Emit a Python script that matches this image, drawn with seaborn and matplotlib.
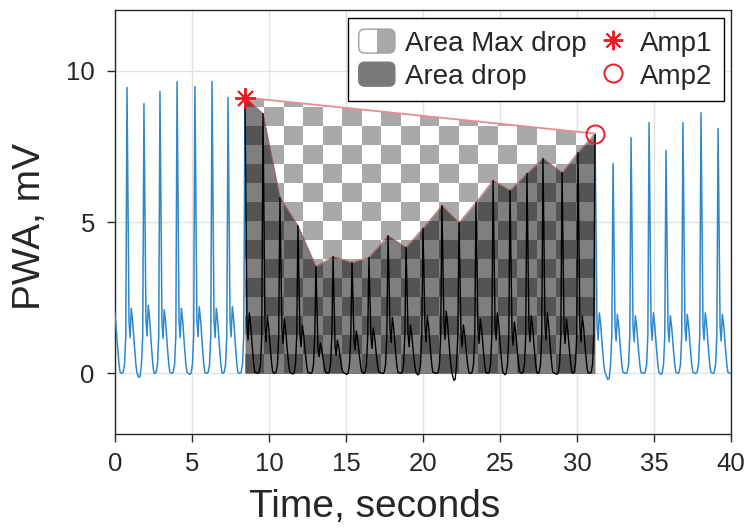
import numpy as np
import matplotlib
matplotlib.use("Agg")
import matplotlib.pyplot as plt
import seaborn as sns
from matplotlib.patches import Polygon, FancyBboxPatch, Rectangle, Patch
from matplotlib.lines import Line2D
from matplotlib.legend_handler import HandlerBase
from matplotlib.colors import ListedColormap

# ---------------- data ----------------
peak_t = [-0.31, 0.78, 1.88, 2.92, 4.03, 5.19, 6.30, 7.34, 8.44,
          9.61, 10.71, 11.88, 13.05, 14.16, 15.39, 16.49, 17.73, 18.90, 20.00,
          21.23, 22.34, 23.44, 24.55, 25.65, 26.75, 27.79, 29.03, 30.06, 31.17,
          32.34, 33.51, 34.68, 35.78, 36.88, 38.05, 39.16, 40.30]
peak_v = [9.20, 9.44, 8.91, 9.31, 9.64, 9.47, 9.64, 9.11, 9.11,
          8.58, 5.81, 4.88, 3.53, 3.86, 3.66, 3.83, 4.55, 4.16, 4.79,
          5.54, 4.98, 5.64, 6.37, 6.04, 6.60, 7.10, 6.63, 7.29, 7.92,
          6.93, 7.79, 8.28, 7.36, 8.28, 8.61, 8.09, 8.00]
bump_v = [2.05, 2.15, 2.25, 2.10, 2.15, 2.20, 2.15, 2.20, 2.00,
          1.90, 1.80, 1.60, 1.00, 1.10, 1.40, 1.50, 1.85, 1.60, 1.90,
          2.05, 1.60, 1.80, 2.00, 1.70, 1.90, 2.00, 1.80, 1.90, 2.00,
          1.95, 1.90, 2.00, 1.90, 1.95, 2.00, 1.95, 2.00]
trough_v = [0.0, 0.0, -0.13, 0.0, 0.0, -0.03, 0.0, 0.0, 0.0,
            0.0, 0.0, -0.02, 0.0, 0.0, -0.03, 0.0, 0.0, 0.0, -0.05,
            0.0, -0.23, 0.0, 0.0, -0.04, 0.0, 0.0, -0.03, 0.0, 0.0,
            -0.20, 0.0, 0.0, -0.03, 0.0, 0.0, 0.0, 0.0]
amp1_idx = 8
amp2_idx = 28

# beat shape: offsets (s) from each systolic peak
shape_dt = [-0.34, -0.25, -0.16, -0.08, 0.0, 0.13, 0.20, 0.28, 0.37, 0.47, 0.57, 0.64]

x_ticks = [0, 5, 10, 15, 20, 25, 30, 35, 40]
y_ticks = [0, 5, 10]

# ---------------- build the waveform from the per-beat values ----------------
t_sig, v_sig = [], []
for tp, A, b, m in zip(peak_t, peak_v, bump_v, trough_v):
    vals = [m, m + 0.04, 0.30, 1.25, A, 0.8 * b, 0.55 * b, b, 0.8 * b, 0.45 * b, 0.15 * b, 0.04]
    for dt, vv in zip(shape_dt, vals):
        t_sig.append(tp + dt)
        v_sig.append(vv)
t_sig = np.array(t_sig)
v_sig = np.array(v_sig)

t1, A1 = peak_t[amp1_idx], peak_v[amp1_idx]
t2, A2 = peak_t[amp2_idx], peak_v[amp2_idx]
pre = t_sig <= t1
mid = (t_sig >= t1) & (t_sig <= t2)
post = t_sig >= t2
env_t = np.array(peak_t[amp1_idx:amp2_idx + 1])
env_v = np.array(peak_v[amp1_idx:amp2_idx + 1])

# ---------------- style ----------------
sns.set_theme(style="ticks")
plt.rcParams["font.family"] = ["Liberation Sans", "DejaVu Sans"]
dark = "#262626"
blue = "#2f88cc"
red = "#ec1c24"

fig = plt.figure(figsize=(7.45, 5.29), dpi=100)
ax = fig.add_axes([115 / 745, 1 - 434 / 529, 616 / 745, 424 / 529])

# checkerboard for the "Area Max drop" trapezoid
cdx, cdy = 1.26, 0.627
nx = int(np.ceil((t2 - t1) / cdx)) + 1
ny = int(np.ceil(max(A1, A2) / cdy)) + 1
ii, jj = np.indices((ny, nx))
board = (ii + jj) % 2
im = ax.imshow(board, cmap=ListedColormap(["#a9a9a9", "#ffffff"]),
               extent=[t1, t1 + nx * cdx, 0, ny * cdy], origin="lower",
               interpolation="nearest", aspect="auto", zorder=1)
trap = Polygon([[t1, 0], [t1, A1], [t2, A2], [t2, 0]], closed=True,
               fc="none", ec="none", transform=ax.transData)
ax.add_patch(trap)
im.set_clip_path(trap)

# "Area drop" fill under the envelope
ax.fill_between(env_t, env_v, 0, color="black", alpha=0.5, lw=0, zorder=2)
ax.plot(env_t, env_v, color="#a85a5a", lw=0.8, alpha=0.8, zorder=2.5)

# signals
sns.lineplot(x=t_sig[pre], y=v_sig[pre], estimator=None, sort=False,
             color=blue, lw=1.1, ax=ax, zorder=3)
sns.lineplot(x=t_sig[post], y=v_sig[post], estimator=None, sort=False,
             color=blue, lw=1.1, ax=ax, zorder=3)
sns.lineplot(x=t_sig[mid], y=v_sig[mid], estimator=None, sort=False,
             color="black", lw=1.0, ax=ax, zorder=3)

# straight line Amp1 -> Amp2
ax.plot([t1, t2], [A1, A2], color="#ec8c8c", lw=1.3, zorder=3.5)
ax.plot([t1], [A1], ls="", marker=(8, 2, 0), ms=15, mew=1.4, color=red, zorder=5)
ax.plot([t2], [A2], ls="", marker="o", ms=13, mew=1.4, mfc="none", mec=red, zorder=5)

# axes
ax.set_xlim(0, 40)
ax.set_ylim(-2, 12)
ax.set_xticks(x_ticks)
ax.set_yticks(y_ticks)
ax.grid(True, color="#e2e2e2", lw=1.0, zorder=0)
ax.set_axisbelow(True)
for s in ax.spines.values():
    s.set_visible(True)
    s.set_color(dark)
    s.set_linewidth(1.0)
ax.tick_params(direction="out", length=6, width=1.0, color=dark,
               labelsize=18.5, labelcolor=dark, pad=7, top=False, right=False)
ax.tick_params(axis="y", pad=8.5)
ax.set_xlabel("Time, seconds", fontsize=28, color=dark)
ax.set_ylabel("PWA, mV", fontsize=28, color=dark)
ax.xaxis.set_label_coords((375 - 115) / 616, -0.13)
ax.yaxis.set_label_coords(-0.108, 0.49)


# legend
class RoundBox(HandlerBase):
    def __init__(self, left, right, edge):
        super().__init__()
        self.left, self.right, self.edge = left, right, edge

    def create_artists(self, legend, orig_handle, xdescent, ydescent,
                       width, height, fontsize, trans):
        x0, y0 = -xdescent, -ydescent
        r = 0.25 * height
        style = f"round,pad=0,rounding_size={r}"
        box = FancyBboxPatch((x0, y0), width, height, boxstyle=style,
                             fc=self.right, ec="none", transform=trans)
        arts = [box]
        if self.left != self.right:
            half = Rectangle((x0, y0), width / 2, height, fc=self.left,
                             ec="none", transform=trans)
            half.set_clip_path(box)
            arts.append(half)
        outline = FancyBboxPatch((x0, y0), width, height, boxstyle=style,
                                 fc="none", ec=self.edge, lw=1.0, transform=trans)
        arts.append(outline)
        return arts


h1 = Patch(label="Area Max drop")
h2 = Patch(label="Area drop")
h3 = Line2D([], [], ls="", marker=(8, 2, 0), ms=14, mew=1.4, color=red, label="Amp1")
h4 = Line2D([], [], ls="", marker="o", ms=13, mew=1.4, mfc="none", mec=red, label="Amp2")
leg = ax.legend(handles=[h1, h2, h3, h4], ncol=2, loc="upper right",
                bbox_to_anchor=((724 - 115) / 616, (434 - 18) / 424),
                borderaxespad=0, fontsize=20, frameon=True, fancybox=False,
                edgecolor="black", framealpha=1, handlelength=1.3,
                handleheight=0.95, handletextpad=0.35, columnspacing=0.3,
                labelspacing=0.2, borderpad=0.4,
                handler_map={h1: RoundBox("#ffffff", "#a9a9a9", "#a0a0a0"),
                             h2: RoundBox("#7a7a7a", "#7a7a7a", "#7a7a7a")})
leg.get_frame().set_linewidth(1.0)
leg.set_zorder(10)

fig.savefig("out.png", dpi=100)
